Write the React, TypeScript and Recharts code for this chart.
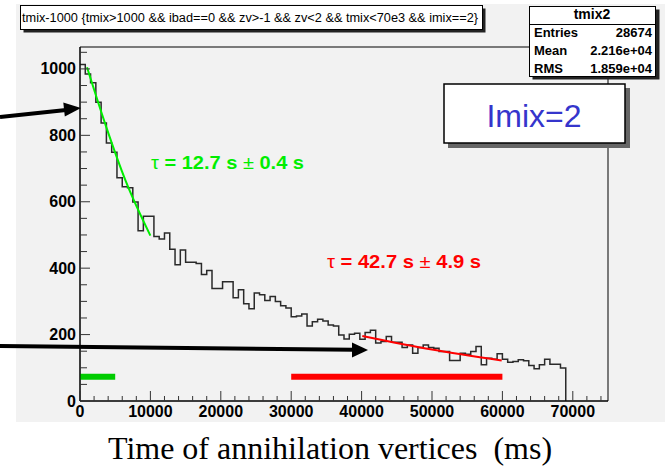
import { ComposedChart, Line, XAxis, YAxis, ReferenceArea } from "recharts";

// histogram: tmix-1000, 750 ms bins
const BIN_WIDTH = 750;
const COUNTS = [
  1013, 985, 958, 900, 837, 777, 749, 672, 645, 642,
  599, 513, 556, 556, 495, 488, 506, 457, 410, 455,
  418, 418, 414, 381, 393, 339, 339, 359, 359, 311,
  335, 293, 278, 325, 320, 303, 315, 300, 287, 280,
  254, 256, 262, 226, 239, 246, 241, 229, 226, 199,
  187, 201, 204, 186, 206, 213, 175, 179, 194, 177,
  177, 161, 169, 144, 161, 169, 161, 159, 149, 149,
  122, 122, 144, 141, 149, 164, 109, 129, 126, 142,
  126, 117, 119, 124, 121, 107, 97, 109, 126, 111,
  111, 99,
];

// fit curves
const GREEN_FIT = [
  { t: 1000, v: 1005 },
  { t: 3700, v: 827 },
  { t: 6500, v: 662 },
  { t: 10000, v: 498 },
];
const RED_FIT = [
  { t: 40100, v: 196 },
  { t: 50000, v: 155 },
  { t: 59900, v: 122 },
];

// fit ranges drawn as thick bars
const GREEN_RANGE = [
  { t: 0, v: 73 },
  { t: 5000, v: 73 },
];
const RED_RANGE = [
  { t: 30000, v: 73 },
  { t: 60000, v: 73 },
];

const X_MAX = 75000;
const Y_MAX = 1066;
const X_MAJOR = [0, 10000, 20000, 30000, 40000, 50000, 60000, 70000];
const X_MINOR_STEP = 2000;
const Y_MAJOR = [0, 200, 400, 600, 800, 1000];
const Y_MINOR_STEP = 50;

const STATS = [
  ["Entries", "28674"],
  ["Mean", "2.216e+04"],
  ["RMS", "1.859e+04"],
];

const SANS = '"Liberation Sans", Arial, Helvetica, sans-serif';
const SERIF = '"Liberation Serif", "Times New Roman", serif';

const histData = [
  ...COUNTS.map((n, i) => ({ t: i * BIN_WIDTH, v: n })),
  { t: COUNTS.length * BIN_WIDTH, v: 0 },
];

const xTicks: number[] = [];
for (let t = 0; t < X_MAX; t += X_MINOR_STEP) xTicks.push(t);
const yTicks: number[] = [];
for (let v = 0; v < Y_MAX; v += Y_MINOR_STEP) yTicks.push(v);

function XTick(props: any) {
  const { x, y, payload } = props;
  const major = X_MAJOR.includes(payload.value);
  return (
    <g>
      <line x1={x} y1={y} x2={x} y2={y - (major ? 10 : 5)} stroke="#333" strokeWidth={1} />
      {major && (
        <text
          x={x}
          y={y + 16}
          textAnchor="middle"
          fontFamily={SANS}
          fontWeight="bold"
          fontSize={16}
          fill="#000"
        >
          {payload.value}
        </text>
      )}
    </g>
  );
}

function YTick(props: any) {
  const { x, y, payload } = props;
  const major = Y_MAJOR.includes(payload.value);
  return (
    <g>
      <line x1={x} y1={y} x2={x + (major ? 10 : 7)} y2={y} stroke="#333" strokeWidth={1} />
      {major && (
        <text
          x={x - 4}
          y={y + 5.5}
          textAnchor="end"
          fontFamily={SANS}
          fontWeight="bold"
          fontSize={16}
          fill="#000"
        >
          {payload.value}
        </text>
      )}
    </g>
  );
}

export default function App() {
  return (
    <div style={{ position: "absolute", left: 0, top: 0, width: 665, height: 469, background: "#fff" }}>
      {/* canvas background */}
      <div style={{ position: "absolute", left: 16, top: 4, width: 649, height: 418, background: "#f2f2f2" }} />

      <div style={{ position: "absolute", left: 0, top: 0 }}>
        <ComposedChart width={665} height={469} margin={{ top: 47, right: 57, bottom: 48, left: 16 }}>
          <XAxis
            dataKey="t"
            type="number"
            domain={[0, X_MAX]}
            ticks={xTicks}
            interval={0}
            tick={<XTick />}
            tickLine={false}
            tickSize={0}
            tickMargin={0}
            height={20}
            axisLine={{ stroke: "#000" }}
          />
          <YAxis
            type="number"
            domain={[0, Y_MAX]}
            ticks={yTicks}
            interval={0}
            tick={<YTick />}
            tickLine={false}
            tickSize={0}
            tickMargin={0}
            width={64}
            axisLine={{ stroke: "#000" }}
          />

          {/* frame */}
          <ReferenceArea x1={0} x2={X_MAX} y1={0} y2={Y_MAX} fill="none" fillOpacity={0} stroke="#000" strokeWidth={1} />

          <Line
            data={histData}
            dataKey="v"
            type="stepAfter"
            stroke="#2a2a2a"
            strokeWidth={1.5}
            dot={false}
            activeDot={false}
            isAnimationActive={false}
          />
          <Line
            data={GREEN_FIT}
            dataKey="v"
            type="monotone"
            stroke="#00ee00"
            strokeWidth={2}
            dot={false}
            activeDot={false}
            isAnimationActive={false}
          />
          <Line
            data={RED_FIT}
            dataKey="v"
            type="monotone"
            stroke="#ff0000"
            strokeWidth={2}
            dot={false}
            activeDot={false}
            isAnimationActive={false}
          />
          <Line
            data={GREEN_RANGE}
            dataKey="v"
            stroke="#00cc00"
            strokeWidth={6}
            dot={false}
            activeDot={false}
            isAnimationActive={false}
          />
          <Line
            data={RED_RANGE}
            dataKey="v"
            stroke="#ff0000"
            strokeWidth={6}
            dot={false}
            activeDot={false}
            isAnimationActive={false}
          />
        </ComposedChart>
      </div>

      {/* annotations */}
      <svg width={665} height={469} style={{ position: "absolute", left: 0, top: 0, pointerEvents: "none" }}>
        {/* cut title */}
        <rect x={23.5} y={8.5} width={462} height={24} fill="#222" />
        <rect x={20.5} y={5.5} width={462} height={24} fill="#fff" stroke="#000" />
        <text x={22} y={21.5} fontFamily={SANS} fontSize={12} textLength={456} lengthAdjust="spacingAndGlyphs" fill="#000">
          {"tmix-1000 {tmix>1000 && ibad==0 && zv>-1 && zv<2 && tmix<70e3 && imix==2}"}
        </text>

        {/* stats box */}
        <rect x={532.5} y={9.5} width={127} height={70} fill="#222" />
        <rect x={529.5} y={6.5} width={126} height={70} fill="#fff" stroke="#000" />
        <line x1={529.5} y1={24.5} x2={655.5} y2={24.5} stroke="#000" />
        <text x={592} y={19} textAnchor="middle" fontFamily={SANS} fontWeight="bold" fontSize={14} fill="#000">
          tmix2
        </text>
        {STATS.map(([k, val], i) => (
          <g key={k}>
            <text x={534} y={37 + i * 18} fontFamily={SANS} fontWeight="bold" fontSize={13} fill="#000">
              {k}
            </text>
            <text x={652} y={37 + i * 18} textAnchor="end" fontFamily={SANS} fontWeight="bold" fontSize={13} fill="#000">
              {val}
            </text>
          </g>
        ))}

        {/* Imix label */}
        <rect x={448} y={88} width={182} height={60} fill="#666" />
        <rect x={444} y={84} width={181} height={59} fill="#fff" stroke="#000" strokeWidth={1.5} />
        <text x={534} y={127} textAnchor="middle" fontFamily={SANS} fontSize={32} fill="#3535cc">
          Imix=2
        </text>

        {/* fit results */}
        <text x={151} y={169} fontFamily={SANS} fontWeight="bold" fontSize={19} fill="#00ee00" textLength={153} lengthAdjust="spacingAndGlyphs">
          <tspan fontWeight="normal">τ</tspan> = 12.7 s <tspan fontWeight="normal">±</tspan> 0.4 s
        </text>
        <text x={327} y={268} fontFamily={SANS} fontWeight="bold" fontSize={19} fill="#ff0000" textLength={154} lengthAdjust="spacingAndGlyphs">
          <tspan fontWeight="normal">τ</tspan> = 42.7 s <tspan fontWeight="normal">±</tspan> 4.9 s
        </text>

        {/* arrows */}
        <line x1={0} y1={117} x2={66} y2={110} stroke="#000" strokeWidth={4} />
        <polygon points="81,108 64.8,116.5 63.3,102.5" fill="#000" />
        <line x1={0} y1={346} x2={354} y2={349.8} stroke="#000" strokeWidth={4} />
        <polygon points="368,350 352,357.5 352,342.5" fill="#000" />

        {/* x axis title */}
        <text x={330} y={459} textAnchor="middle" fontFamily={SERIF} fontSize={32} fill="#000" style={{ whiteSpace: "pre" }}>
          {"Time of annihilation vertices  (ms)"}
        </text>
      </svg>
    </div>
  );
}
